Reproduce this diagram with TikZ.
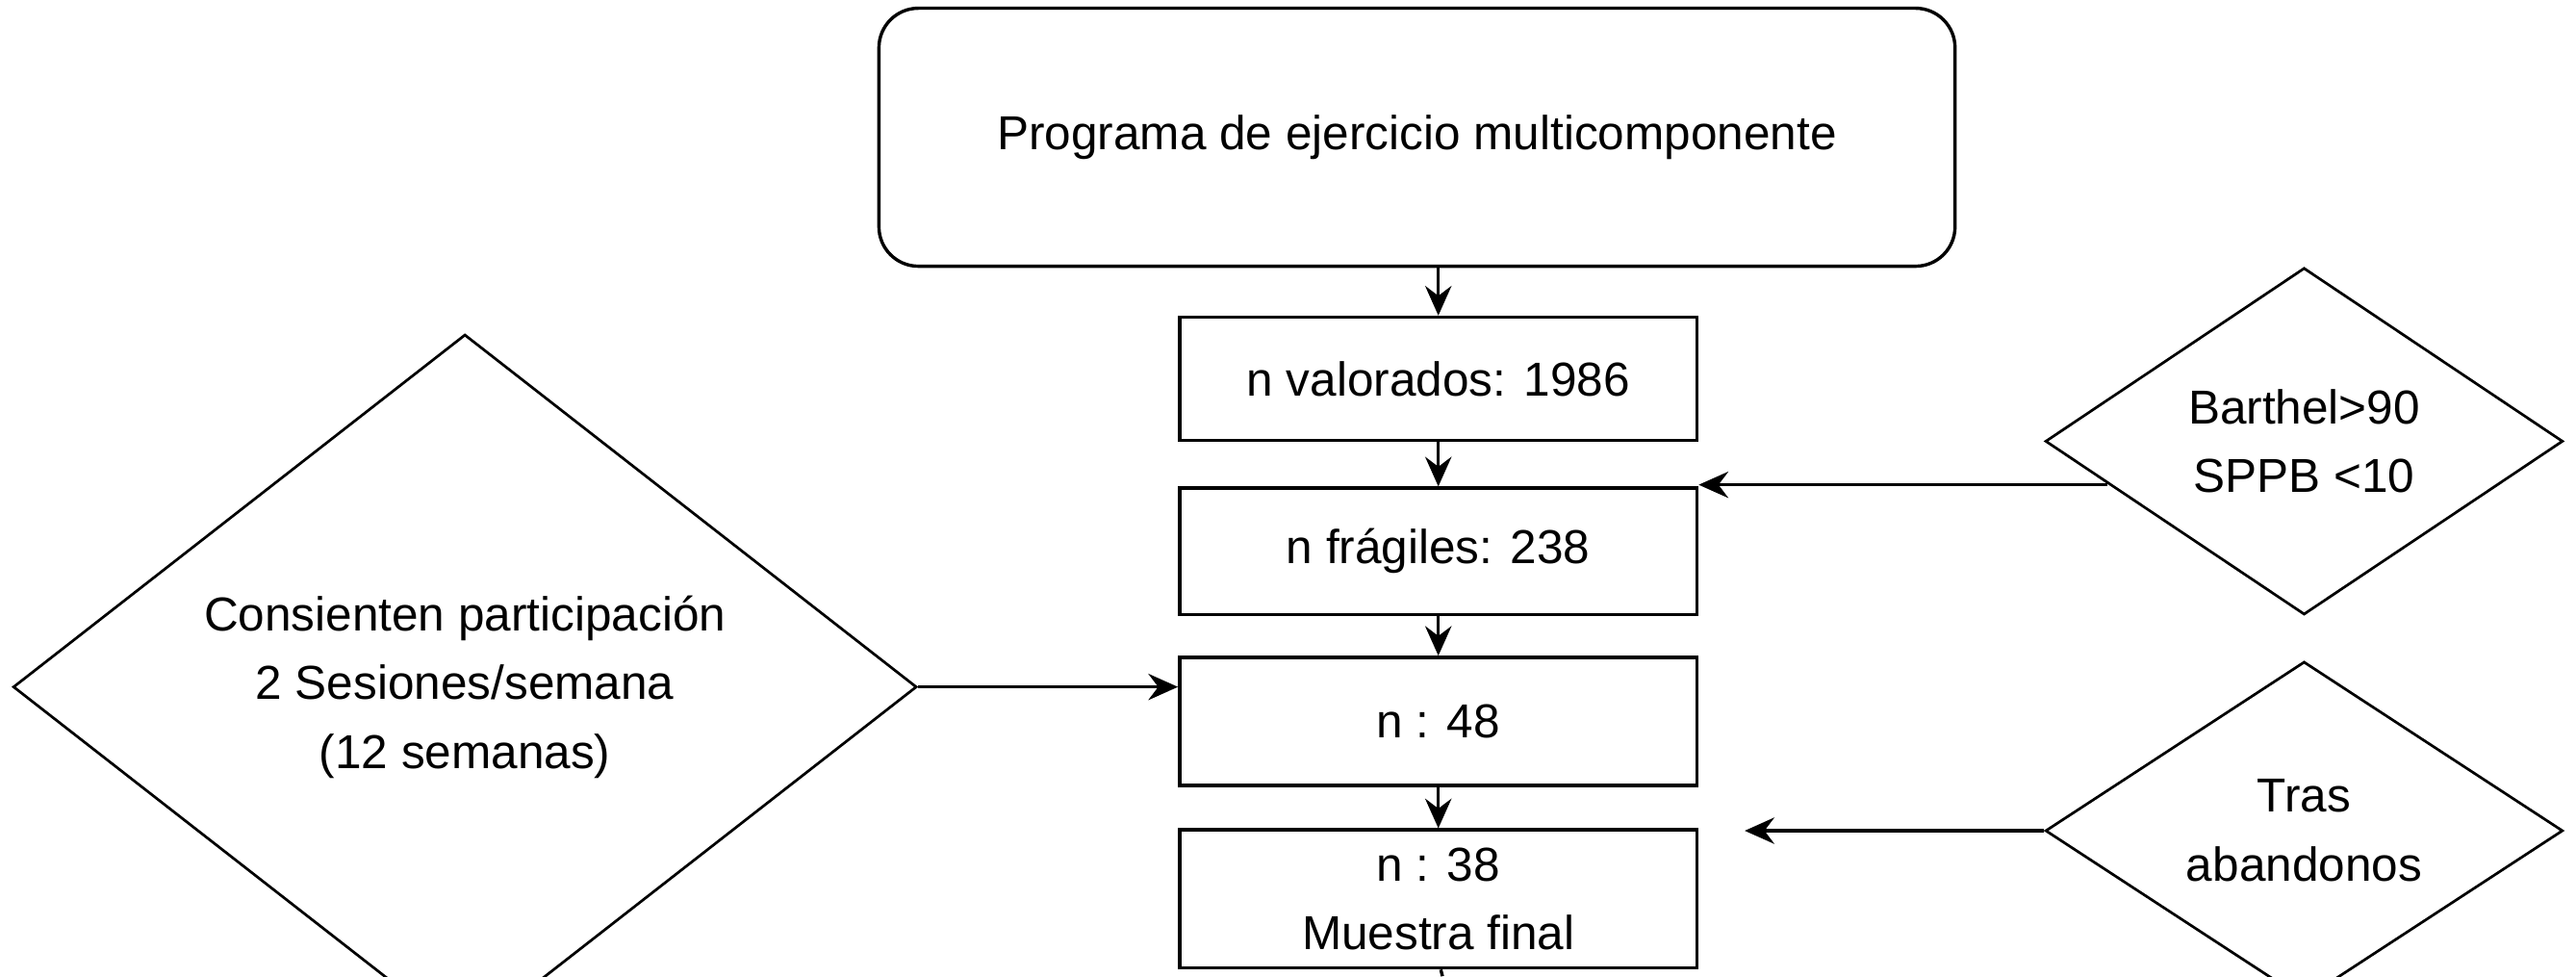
\documentclass[tikz,border=0pt]{standalone}
\usepackage{fontspec}
\setmainfont{Liberation Sans}
\usetikzlibrary{arrows.meta,shapes.geometric}
\begin{document}
\begin{tikzpicture}[x=0.5pt,y=-0.5pt,
  every node/.style={font=\fontsize{14.5}{21}\selectfont, align=center},
  box/.style={draw, line width=1pt, minimum width=157.5pt, inner sep=0pt},
  dia/.style={draw, line width=0.8pt, diamond, inner sep=0pt},
  arr/.style={-{Stealth[length=9pt,width=8pt,inset=3pt]}, line width=1pt}]
\useasboundingbox (0,0) rectangle (1568,594);
\node[draw, line width=1pt, rounded corners=12pt, minimum width=327.5pt, minimum height=78.5pt] (top) at (862.5,83.5) {Programa de ejercicio multicomponente};
\node[box, minimum height=37.5pt] (b1) at (875.5,230.5) {n valorados: 1986};
\node[box, minimum height=38.5pt] (b2) at (875.5,335.5) {n frágiles: 238};
\node[box, minimum height=39pt] (b3) at (875.5,439) {n : 48};
\node[box, minimum height=42pt] (b4) at (875.5,547) {n : 38\\Muestra final};
\coordinate (tail) at (878,594);
\draw[line width=1pt] (b4.south) ++(1.5,0) -- (tail);
\draw[dia, minimum width=157.5pt, minimum height=105.5pt] (1402.5,268.5) node[dia, minimum width=157.5pt, minimum height=105.5pt] (d1) {Barthel>90\\SPPB <10};
\node[dia, minimum width=275pt, minimum height=150pt] (d2) at (283,418) {Consienten participación\\2 Sesiones/semana\\(12 semanas)};
\node[dia, minimum width=157.5pt, minimum height=77.5pt] (d3) at (1402.5,505.5) {Tras\\abandonos};
\draw[arr] (top.south -| b1.north) -- (b1.north);
\draw[arr] (b1) -- (b2);
\draw[arr] (b2) -- (b3);
\draw[arr] (b3) -- (b4);
\coordinate (a1) at (1283,295);
\draw[arr] (a1) -- (a1 -| b2.east);
\draw[arr] (d2.east) -- (d2.east -| b3.west);
\coordinate (a3e) at (1062,505.5);
\draw[arr] (d3.west) -- (a3e);
\end{tikzpicture}
\end{document}
